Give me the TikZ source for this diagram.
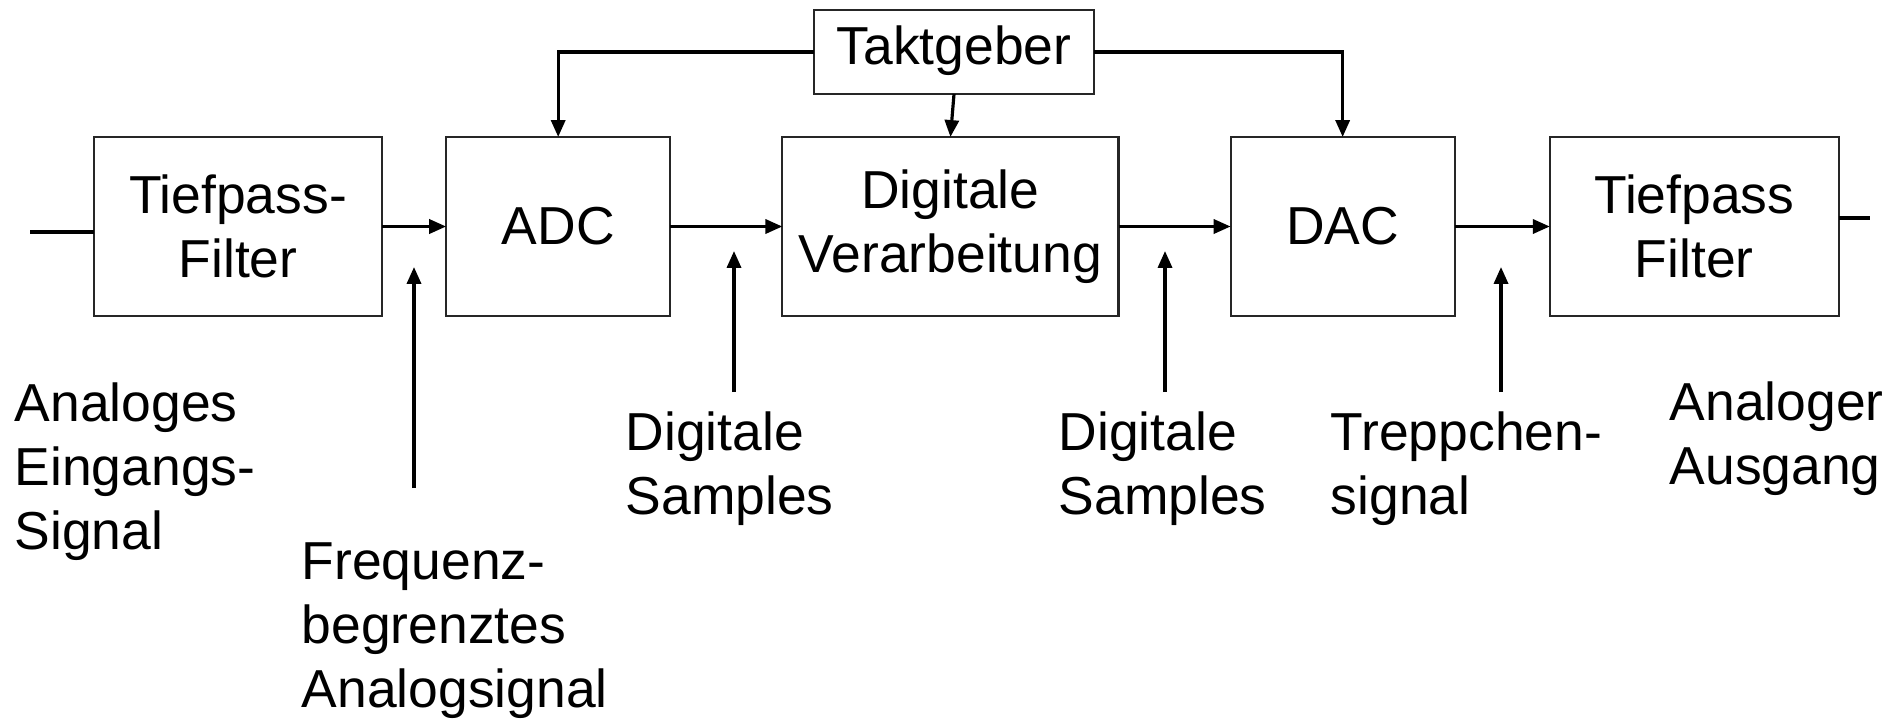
\documentclass[tikz,border=0pt]{standalone}
\usepackage{fontspec}
\setmainfont{Liberation Sans}
\usetikzlibrary{arrows.meta,positioning}

\tikzset{
  block/.style={draw=black!85,line width=0.6pt,minimum height=1.79cm,align=center,inner sep=0pt,outer sep=0pt},
  lbl/.style={anchor=west,align=left,inner sep=0pt},
  sig/.style={line width=0.9pt}
}

\begin{document}
\begin{tikzpicture}[x=0.01cm,y=-0.01cm,>={Triangle[length=4.8pt,width=4pt]},
    font=\fontsize{15.2}{18.2}\selectfont]
  \useasboundingbox (0,0) rectangle (1889,724);

  % blocks
  \node[block,minimum width=2.88cm] (tp1) at (238,226.5) {Tiefpass-\\Filter};
  \node[block,minimum width=2.24cm,right=0.64cm of tp1] (adc) {ADC};
  \node[block,minimum width=3.36cm,right=1.12cm of adc] (dv) {Digitale\\Verarbeitung};
  \node[block,minimum width=2.24cm,right=1.12cm of dv] (dac) {DAC};
  \node[block,minimum width=2.89cm,right=0.95cm of dac] (tp2) {Tiefpass\\Filter};
  \node[block,minimum width=2.80cm,minimum height=0.84cm] (tg) at (954,52) {\strut Taktgeber};

  % labels
  \node[lbl] (ein) at (14,472) {Analoges\\Eingangs-\\Signal};
  \node[lbl] (freq) at (301,631) {Frequenz-\\begrenztes\\Analogsignal};
  \node[lbl] (ds1) at (625,469) {Digitale\\Samples};
  \node[lbl] (ds2) at (1058,469) {Digitale\\Samples};
  \node[lbl] (trep) at (1330,469) {Treppchen-\\signal};
  \node[lbl] (aus) at (1669,439) {Analoger\\Ausgang};

  % free ends
  \coordinate (in) at (30,232);
  \coordinate (out) at (1870,218);
  \coordinate (a1) at (414,488);
  \coordinate (b1) at (414,267);
  \coordinate (a2) at (734,392);
  \coordinate (b2) at (734,251);
  \coordinate (a3) at (1165,392);
  \coordinate (b3) at (1165,251);
  \coordinate (a4) at (1501,392);
  \coordinate (b4) at (1501,267);

  \draw[sig] (in) -- (in -| tp1.west);
  \draw[sig] (out -| tp2.east) -- (out);
  \draw[sig,->] (tp1) -- (adc);
  \draw[sig,->] (adc) -- (dv);
  \draw[sig,->] (dv) -- (dac);
  \draw[sig,->] (dac) -- (tp2);

  \draw[sig,->] (tg.west) -| (adc.north);
  \draw[sig,->] (tg.east) -| (dac.north);
  \draw[sig,->] (tg.south) -- (dv.north);

  \draw[sig,->] (a1) -- (b1);
  \draw[sig,->] (a2) -- (b2);
  \draw[sig,->] (a3) -- (b3);
  \draw[sig,->] (a4) -- (b4);
\end{tikzpicture}
\end{document}
